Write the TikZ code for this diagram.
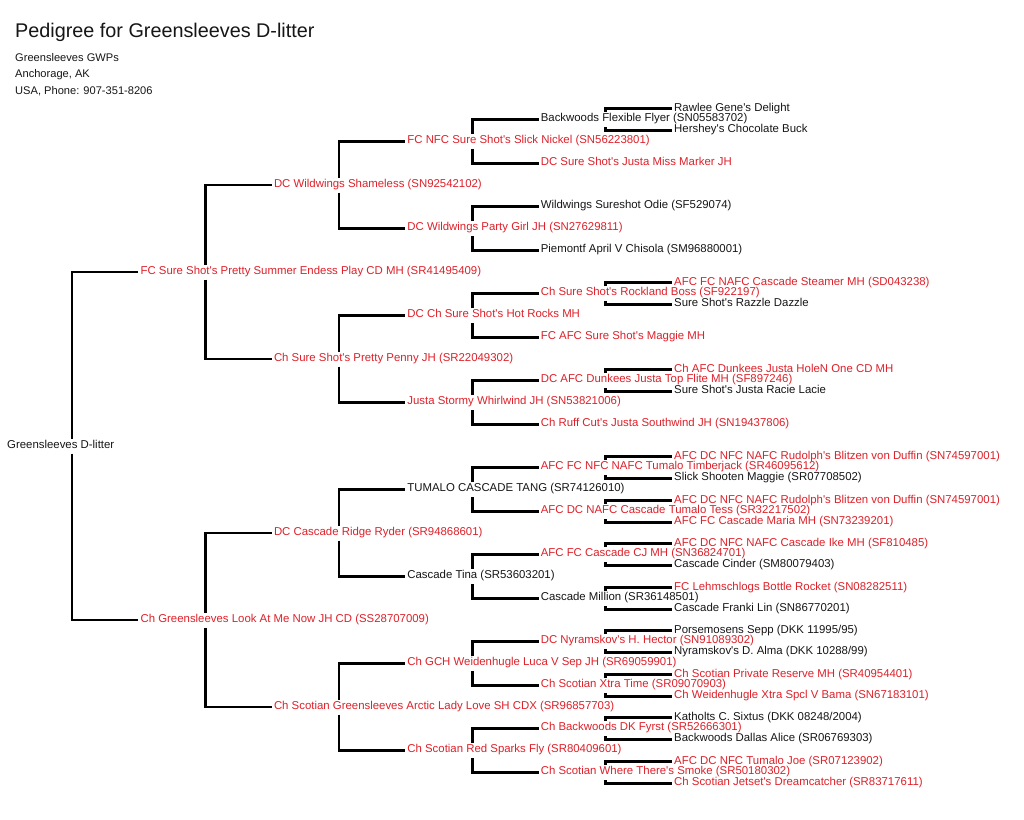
\documentclass[tikz,border=0pt]{standalone}
\usepackage{fontspec}
\usepackage{xcolor}
\usepackage{tikz}
\newfontfamily\dogfont{Liberation Sans}
\definecolor{titlered}{RGB}{222,33,42}
\definecolor{ink}{RGB}{22,22,22}
\tikzset{dog/.style={anchor=west,text=ink,inner xsep=2pt,inner ysep=2.2pt,
    text height=7.6pt,text depth=3pt,font=\dogfont\fontsize{11.4}{13}\selectfont},
    champ/.style={text=titlered},
    header/.style={anchor=base west,inner sep=0pt,text=ink},
    every child node/.style={dog},
    edge from parent/.style=
    {draw,line width=2.6pt,edge from parent path=
    {([xshift=67pt,yshift={(1.5-\tikznumberofcurrentchild)*15pt}]\tikzparentnode.west)
      |- (\tikzchildnode.west)}},
    grow'=right,growth parent anchor=west,level distance=133.4pt,
    level 1/.style={sibling distance=348pt},
    level 2/.style={sibling distance=174pt},
    level 3/.style={sibling distance=87pt},
    level 4/.style={sibling distance=44pt},
    level 5/.style={sibling distance=21.6pt}}

\begin{document}
\begin{tikzpicture}[x=1pt,y=-1pt]
\useasboundingbox[fill=white] (0,0) rectangle (1024,819);
% heading
\node[header,font=\dogfont\fontsize{19.8}{24}\selectfont] (title) at (15,37.3) {Pedigree for Greensleeves D-litter};
\node[header,font=\dogfont\fontsize{11.1}{13}\selectfont] (kennel) at (15,61.7) {Greensleeves GWPs};
\node[header,font=\dogfont\fontsize{11.1}{13}\selectfont] (city) at (15,77.7) {Anchorage, AK};
\node[header,font=\dogfont\fontsize{11.1}{13}\selectfont] (phone) at (15,94.3) {USA, Phone: 907-351-8206};
% pedigree
\node[dog] (dl) at (5,446) {Greensleeves D-litter}
  child {node[champ] {FC Sure Shot's Pretty Summer Endess Play CD MH (SR41495409)}
    child {node[champ] {DC Wildwings Shameless (SN92542102)}
      child {node[champ] {FC NFC Sure Shot's Slick Nickel (SN56223801)}
        child {node {Backwoods Flexible Flyer (SN05583702)}
          child {node {Rawlee Gene's Delight}}
          child {node {Hershey's Chocolate Buck}}
        }
        child {node[champ] {DC Sure Shot's Justa Miss Marker JH}}
      }
      child {node[champ] {DC Wildwings Party Girl JH (SN27629811)}
        child {node {Wildwings Sureshot Odie (SF529074)}}
        child {node {Piemontf April V Chisola (SM96880001)}}
      }
    }
    child {node[champ] {Ch Sure Shot's Pretty Penny JH (SR22049302)}
      child {node[champ] {DC Ch Sure Shot's Hot Rocks MH}
        child {node[champ] {Ch Sure Shot's Rockland Boss (SF922197)}
          child {node[champ] {AFC FC NAFC Cascade Steamer MH (SD043238)}}
          child {node {Sure Shot's Razzle Dazzle}}
        }
        child {node[champ] {FC AFC Sure Shot's Maggie MH}}
      }
      child {node[champ] {Justa Stormy Whirlwind JH (SN53821006)}
        child {node[champ] {DC AFC Dunkees Justa Top Flite MH (SF897246)}
          child {node[champ] {Ch AFC Dunkees Justa HoleN One CD MH}}
          child {node {Sure Shot's Justa Racie Lacie}}
        }
        child {node[champ] {Ch Ruff Cut's Justa Southwind JH (SN19437806)}}
      }
    }
  }
  child {node[champ] {Ch Greensleeves Look At Me Now JH CD (SS28707009)}
    child {node[champ] {DC Cascade Ridge Ryder (SR94868601)}
      child {node {TUMALO CASCADE TANG (SR74126010)}
        child {node[champ] {AFC FC NFC NAFC Tumalo Timberjack (SR46095612)}
          child {node[champ] {AFC DC NFC NAFC Rudolph's Blitzen von Duffin (SN74597001)}}
          child {node {Slick Shooten Maggie (SR07708502)}}
        }
        child {node[champ] {AFC DC NAFC Cascade Tumalo Tess (SR32217502)}
          child {node[champ] {AFC DC NFC NAFC Rudolph's Blitzen von Duffin (SN74597001)}}
          child {node[champ] {AFC FC Cascade Maria MH (SN73239201)}}
        }
      }
      child {node {Cascade Tina (SR53603201)}
        child {node[champ] {AFC FC Cascade CJ MH (SN36824701)}
          child {node[champ] {AFC DC NFC NAFC Cascade Ike MH (SF810485)}}
          child {node {Cascade Cinder (SM80079403)}}
        }
        child {node {Cascade Million (SR36148501)}
          child {node[champ] {FC Lehmschlogs Bottle Rocket (SN08282511)}}
          child {node {Cascade Franki Lin (SN86770201)}}
        }
      }
    }
    child {node[champ] {Ch Scotian Greensleeves Arctic Lady Love SH CDX (SR96857703)}
      child {node[champ] {Ch GCH Weidenhugle Luca V Sep JH (SR69059901)}
        child {node[champ] {DC Nyramskov's H. Hector (SN91089302)}
          child {node {Porsemosens Sepp (DKK 11995/95)}}
          child {node {Nyramskov's D. Alma (DKK 10288/99)}}
        }
        child {node[champ] {Ch Scotian Xtra Time (SR09070903)}
          child {node[champ] {Ch Scotian Private Reserve MH (SR40954401)}}
          child {node[champ] {Ch Weidenhugle Xtra Spcl V Bama (SN67183101)}}
        }
      }
      child {node[champ] {Ch Scotian Red Sparks Fly (SR80409601)}
        child {node[champ] {Ch Backwoods DK Fyrst (SR52666301)}
          child {node {Katholts C. Sixtus (DKK 08248/2004)}}
          child {node {Backwoods Dallas Alice (SR06769303)}}
        }
        child {node[champ] {Ch Scotian Where There's Smoke (SR50180302)}
          child {node[champ] {AFC DC NFC Tumalo Joe (SR07123902)}}
          child {node[champ] {Ch Scotian Jetset's Dreamcatcher (SR83717611)}}
        }
      }
    }
  };
\end{tikzpicture}
\end{document}
